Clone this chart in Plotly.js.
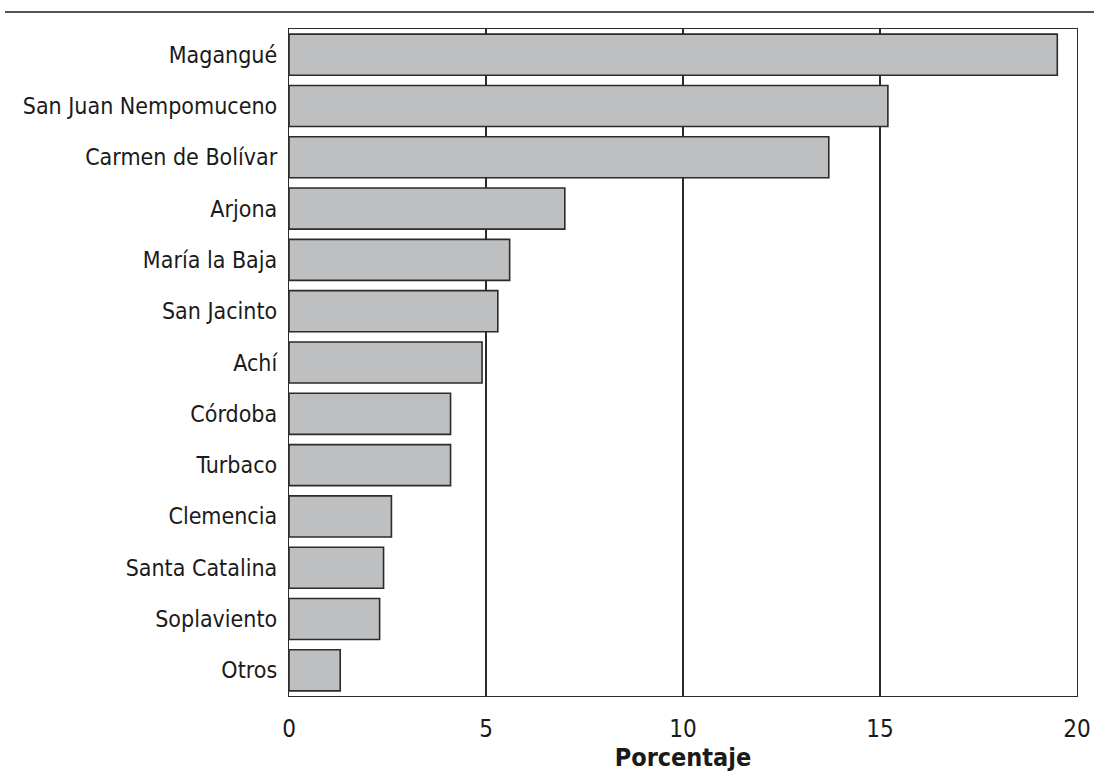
<!DOCTYPE html>
<html>
<head>
<meta charset="utf-8">
<script src="https://cdn.plot.ly/plotly-3.0.1.min.js"></script>
<style>
html,body{margin:0;padding:0;background:#fff;}
#chart{width:1094px;height:776px;}
</style>
</head>
<body>
<div id="chart"></div>
<script>
const municipios = ["Magangué","San Juan Nempomuceno","Carmen de Bolívar","Arjona","María la Baja","San Jacinto","Achí","Córdoba","Turbaco","Clemencia","Santa Catalina","Soplaviento","Otros"];
const porcentajes = [19.5, 15.2, 13.7, 7.0, 5.6, 5.3, 4.9, 4.1, 4.1, 2.6, 2.4, 2.3, 1.3];
const xTicks = [0, 5, 10, 15, 20];
const xTitle = "Porcentaje";

const FONT = "'Liberation Sans Narrow','DejaVu Sans Condensed','Roboto',sans-serif";

const trace = {
  type: "bar",
  orientation: "h",
  y: municipios,
  x: porcentajes,
  marker: {color: "#bebfc1", line: {color: "#2b2b2b", width: 1.6}},
  hoverinfo: "x+y"
};

const layout = {
  width: 1094,
  height: 776,
  margin: {l: 289, r: 17, t: 29, b: 80, pad: 0},
  paper_bgcolor: "#ffffff",
  plot_bgcolor: "#ffffff",
  showlegend: false,
  bargap: 0.2,
  font: {family: FONT, color: "#1a1a1a", size: 23},
  xaxis: {
    range: [0, 20],
    tickvals: xTicks,
    ticktext: xTicks.map(String),
    showgrid: true,
    gridcolor: "#2b2b2b",
    gridwidth: 1.2,
    zeroline: false,
    showline: true,
    linecolor: "#2b2b2b",
    linewidth: 1.2,
    mirror: true,
    ticks: "",
    ticklabelstandoff: 11,
    tickfont: {family: FONT, size: 24, color: "#1a1a1a"},
    title: {text: "<b>" + xTitle + "</b>", font: {family: FONT, size: 25, color: "#1a1a1a"}, standoff: 4},
    fixedrange: true
  },
  yaxis: {
    categoryorder: "array",
    categoryarray: municipios.slice().reverse(),
    autorange: false,
    range: [-0.5, municipios.length - 0.5],
    showgrid: false,
    zeroline: false,
    showline: true,
    linecolor: "#2b2b2b",
    linewidth: 1.2,
    mirror: true,
    ticks: "",
    ticklabelstandoff: 6,
    tickfont: {family: FONT, size: 23, color: "#1a1a1a"},
    fixedrange: true
  },
  shapes: [
    {type: "line", xref: "paper", yref: "paper", x0: (5 - 289) / 788, x1: 1.03, y0: 1 + 17/667, y1: 1 + 17/667,
     line: {color: "#555555", width: 2}}
  ]
};

Plotly.newPlot("chart", [trace], layout, {displayModeBar: false, staticPlot: true});
</script>
</body>
</html>
